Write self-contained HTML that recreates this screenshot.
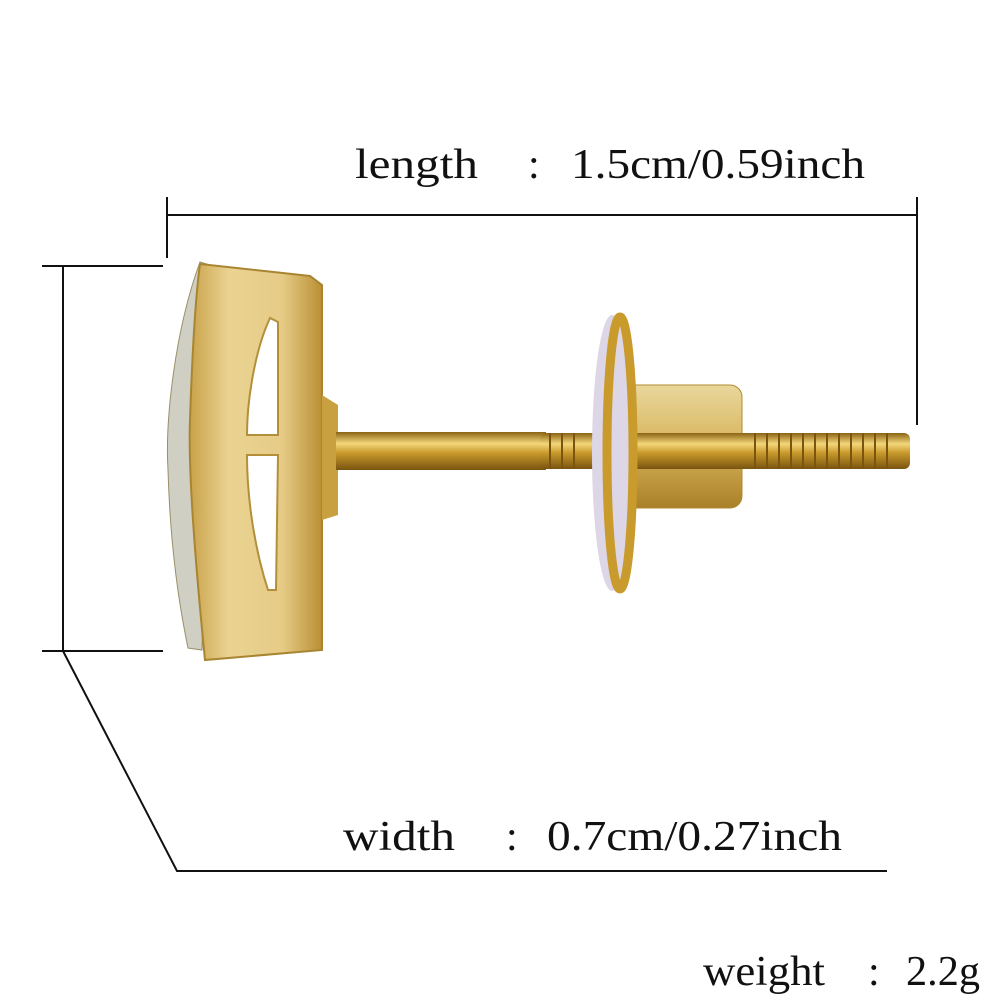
<!DOCTYPE html>
<html><head><meta charset="utf-8"><style>
html,body{margin:0;padding:0;background:#fff;}
svg{display:block}
text{font-family:"Liberation Serif",serif;fill:#111;}
</style></head><body>
<svg width="1001" height="1001" viewBox="0 0 1001 1001" xmlns="http://www.w3.org/2000/svg">
<defs>
<linearGradient id="gp" x1="0" x2="1" y1="0" y2="0">
<stop offset="0" stop-color="#c9a24a"/><stop offset="0.3" stop-color="#ead392"/><stop offset="0.7" stop-color="#e6cb86"/><stop offset="1" stop-color="#b98f33"/>
</linearGradient>
<linearGradient id="gv" x1="0" x2="0" y1="0" y2="1">
<stop offset="0" stop-color="#8a6414"/><stop offset="0.3" stop-color="#f3d77a"/><stop offset="0.55" stop-color="#c99a2c"/><stop offset="1" stop-color="#7a5410"/>
</linearGradient>
<linearGradient id="gb" x1="0" x2="0" y1="0" y2="1">
<stop offset="0" stop-color="#e9d79c"/><stop offset="0.5" stop-color="#d8b45c"/><stop offset="1" stop-color="#a98028"/>
</linearGradient>
</defs>
<g stroke="#111" stroke-width="2" fill="none">
<polyline points="167,258 167,215 917,215 917,425"/>
<line x1="167" y1="197" x2="167" y2="215"/>
<line x1="917" y1="197" x2="917" y2="215"/>
<line x1="42" y1="266" x2="163" y2="266"/>
<line x1="42" y1="651" x2="163" y2="651"/>
<line x1="63" y1="266" x2="63" y2="651"/>
<polyline points="63,651 177,871 887,871"/>
</g>
<path d="M200,262 C175,330 165,420 168,470 C170,540 178,600 188,648 L202,650 L210,265 Z" fill="#cfcfc4" stroke="#9a8f6a"/>
<path d="M200,264 L310,276 L322,285 L322,650 L205,660 C195,560 188,470 190,420 C192,360 195,300 200,264 Z" fill="url(#gp)" stroke="#a98531" stroke-width="2"/>
<path d="M270,318 C255,350 247,400 247,435 L278,435 L278,322 Z" fill="#fff" stroke="#b48f3a" stroke-width="2"/>
<path d="M247,455 L278,455 L276,590 L268,590 C255,550 247,500 247,455 Z" fill="#fff" stroke="#b48f3a" stroke-width="2"/>
<path d="M322,395 L338,405 L338,515 L322,520 Z" fill="#c9a040"/>
<rect x="336" y="432" width="210" height="38" fill="url(#gv)"/>
<rect x="625" y="385" width="117" height="123" rx="12" fill="url(#gb)" stroke="#b38a30"/>
<rect x="540" y="433" width="370" height="36" rx="6" fill="url(#gv)"/>
<g stroke="#7a5410" stroke-width="2">
<line x1="550" y1="433" x2="550" y2="469"/><line x1="562" y1="433" x2="562" y2="469"/><line x1="574" y1="433" x2="574" y2="469"/>
<line x1="755" y1="433" x2="755" y2="469"/><line x1="767" y1="433" x2="767" y2="469"/><line x1="779" y1="433" x2="779" y2="469"/><line x1="791" y1="433" x2="791" y2="469"/><line x1="803" y1="433" x2="803" y2="469"/><line x1="815" y1="433" x2="815" y2="469"/><line x1="827" y1="433" x2="827" y2="469"/><line x1="839" y1="433" x2="839" y2="469"/><line x1="851" y1="433" x2="851" y2="469"/><line x1="863" y1="433" x2="863" y2="469"/><line x1="875" y1="433" x2="875" y2="469"/><line x1="887" y1="433" x2="887" y2="469"/>
</g>
<ellipse cx="612" cy="453" rx="20" ry="138" fill="#ddd6e6"/>
<ellipse cx="620" cy="453" rx="13" ry="136" fill="none" stroke="#c99a2c" stroke-width="9"/>
<text x="355" y="178" font-size="42" textLength="123" lengthAdjust="spacingAndGlyphs">length</text>
<text x="528" y="178" font-size="42">:</text>
<text x="571" y="178" font-size="42" textLength="294" lengthAdjust="spacingAndGlyphs">1.5cm/0.59inch</text>
<text x="343" y="850" font-size="42" textLength="112" lengthAdjust="spacingAndGlyphs">width</text>
<text x="506" y="850" font-size="42">:</text>
<text x="547" y="850" font-size="42" textLength="295" lengthAdjust="spacingAndGlyphs">0.7cm/0.27inch</text>
<text x="703" y="985" font-size="42" textLength="122" lengthAdjust="spacingAndGlyphs">weight</text>
<text x="868" y="985" font-size="42">:</text>
<text x="906" y="985" font-size="42" textLength="74" lengthAdjust="spacingAndGlyphs">2.2g</text>
</svg>
</body></html>
